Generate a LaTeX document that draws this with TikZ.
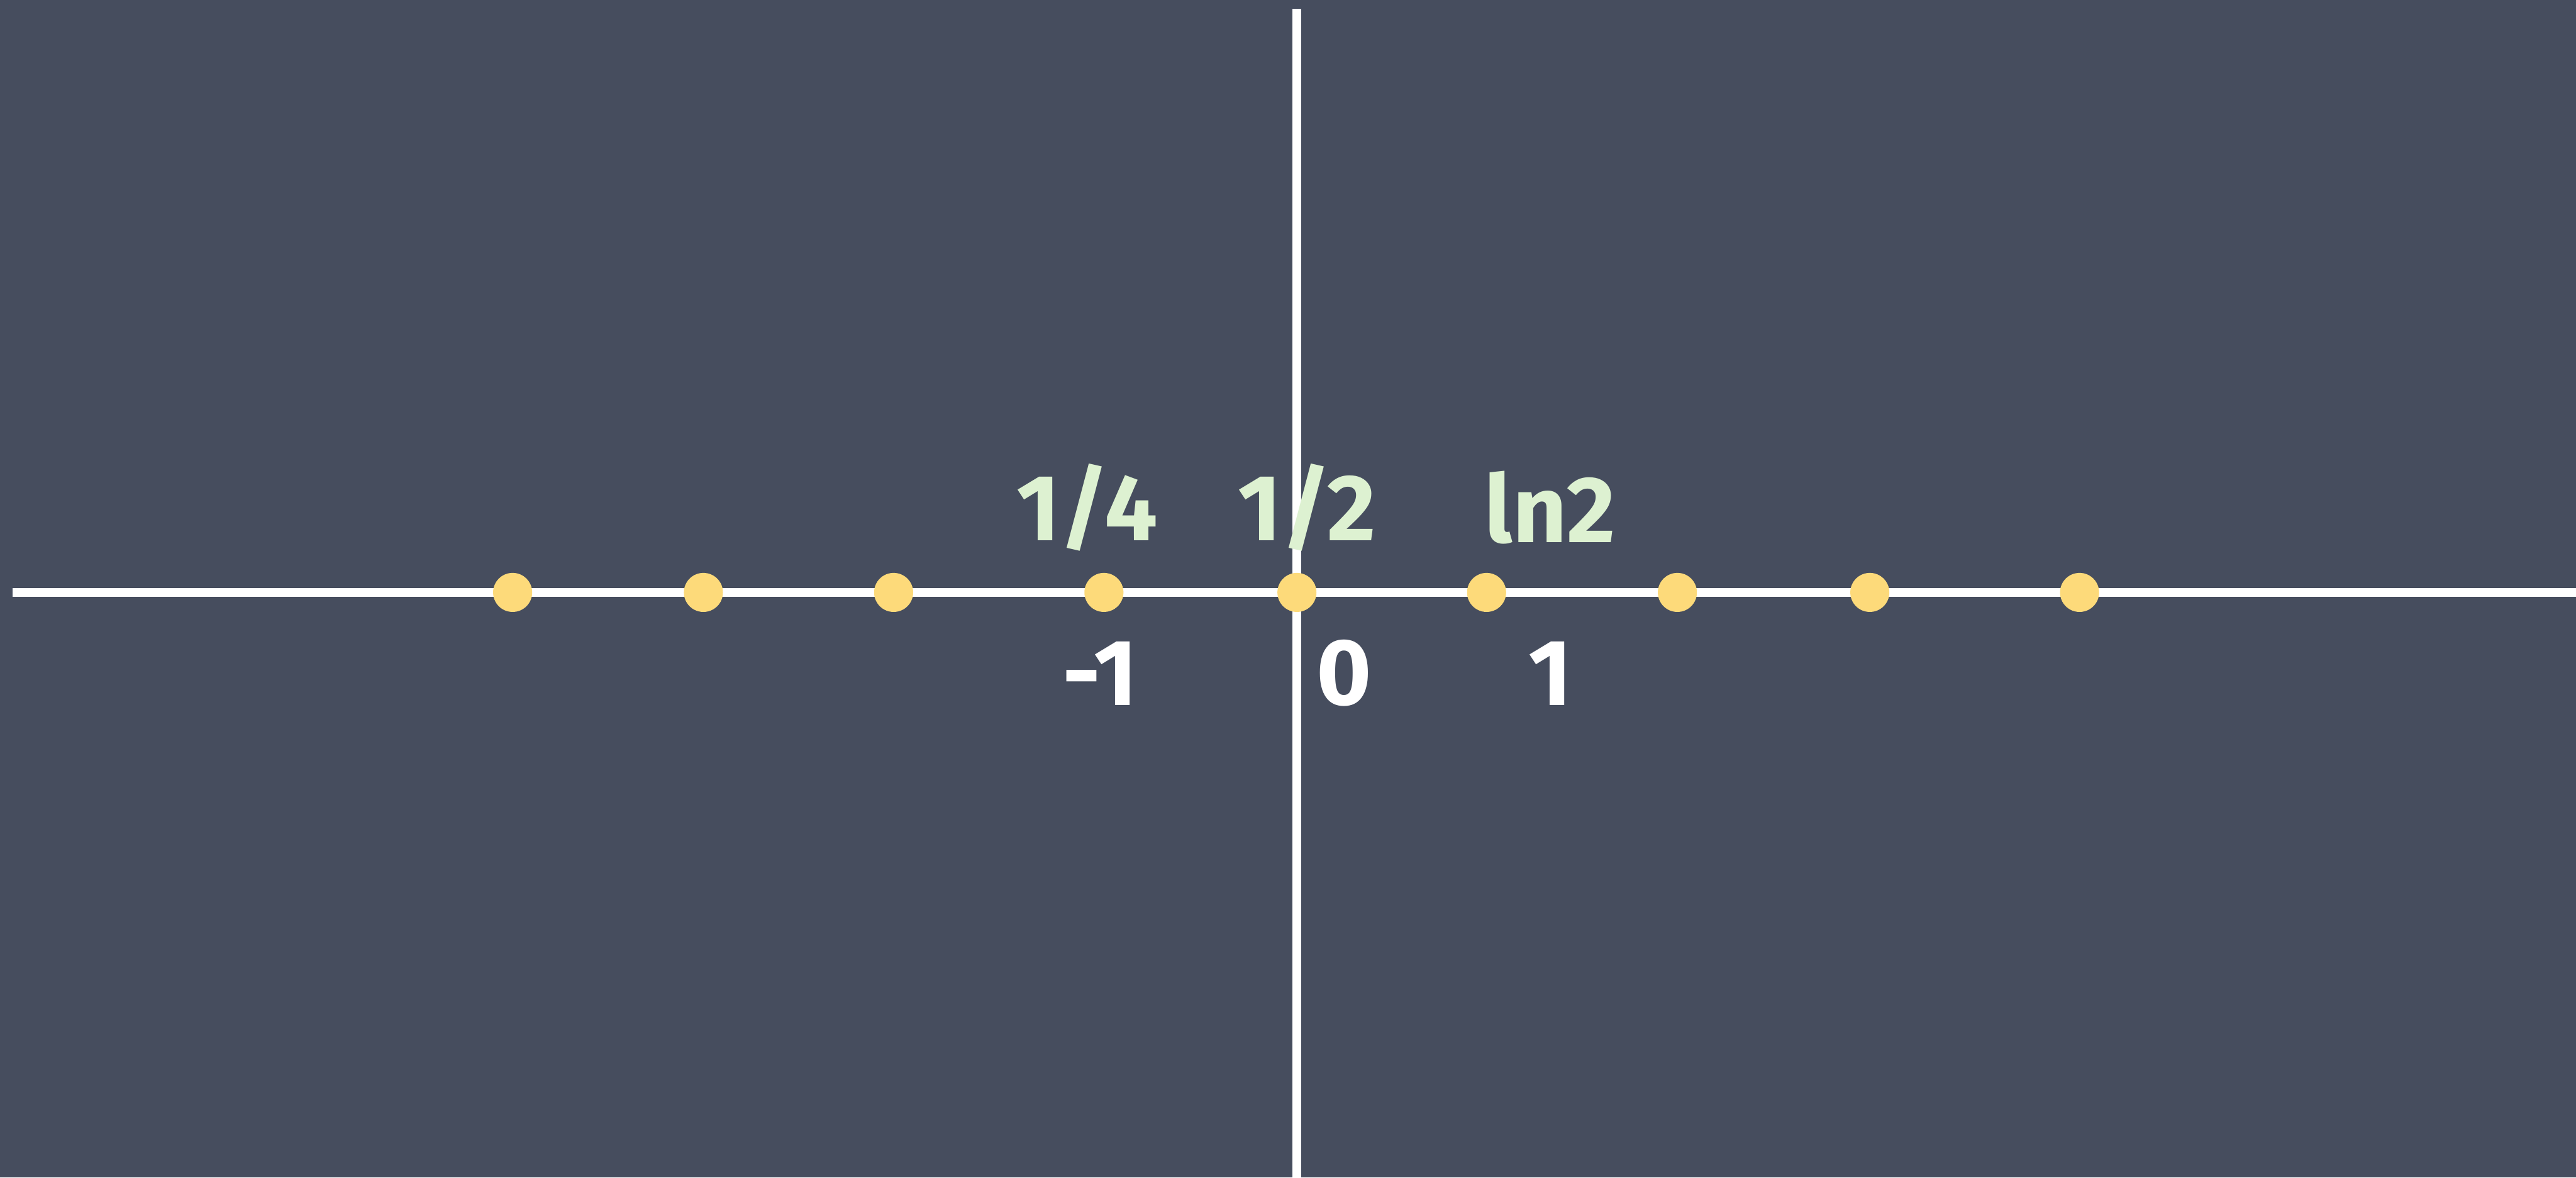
\documentclass[tikz,border=0pt]{standalone}
\usepackage{fontspec}
\setmainfont{Fira Sans}
\usepackage{tikz}
\usetikzlibrary{positioning}
\definecolor{board}{RGB}{70,77,94}
\definecolor{chalkgreen}{RGB}{221,241,209}
\definecolor{dotyellow}{RGB}{253,218,122}
\tikzset{
  axisline/.style={draw=white,line width=4.6pt},
  pointdot/.style={circle,fill=dotyellow,inner sep=0pt,minimum size=0.70cm},
  toplabel/.style={text=chalkgreen,font=\fontsize{48}{48}\selectfont\bfseries,inner sep=0pt},
  bottomlabel/.style={text=white,font=\fontsize{48}{48}\selectfont\bfseries,inner sep=0pt}
}
\begin{document}
\begin{tikzpicture}[x=1cm,y=1cm]
  \fill[board] (0,0) rectangle (46.18,21.11);
  \useasboundingbox (0,0) rectangle (46.18,21.11);
  % axes
  \coordinate (xl) at (0.23,10.49);
  \coordinate (xr) at (46.18,10.49);
  \coordinate (yt) at (23.25,20.95);
  \coordinate (yb) at (23.25,0);
  \draw[axisline] (xl) -- (xr);
  \draw[axisline] (yb) -- (yt);
  % points on the line
  \foreach \px/\pn in {9.19/a,12.61/b,16.02/c,19.79/d,23.25/e,26.65/f,30.07/g,33.52/h,37.28/i}
    \node[pointdot] (dot\pn) at (\px,10.49) {};
  % labels
  \node[toplabel] (quarter) at (19.49,12.01) {1/4};
  \node[toplabel] (half) at (23.43,12.01) {1/2};
  \node[toplabel] (lntwo) at (27.79,12.01) {ln2};
  \node[bottomlabel] (minusone) at (19.72,9.04) {-1};
  \node[bottomlabel] (zero) at (24.10,9.04) {0};
  \node[bottomlabel] (one) at (27.79,9.04) {1};
\end{tikzpicture}
\end{document}
